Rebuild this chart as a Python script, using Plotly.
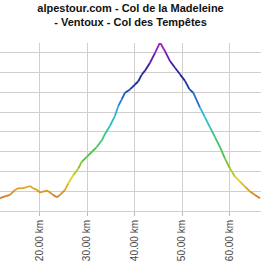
import plotly.graph_objects as go
from plotly.colors import sample_colorscale

# distance (km) and elevation (m)
distance_km = [11.68, 12.74, 13.79, 14.84, 15.47, 16.32, 16.95, 18.0, 18.63, 19.47,
               20.11, 20.74, 21.58, 22.21, 22.84, 23.68, 24.32, 25.37, 26.06, 27.12,
               28.17, 28.88, 29.94, 30.99, 32.04, 33.09, 33.79, 34.84, 35.89, 36.59,
               37.31, 38.0, 39.05, 40.11, 40.8, 41.52, 42.21, 43.26, 44.32, 45.37,
               46.42, 47.47, 48.53, 49.58, 50.63, 51.54, 52.38, 53.79, 54.84, 55.89,
               56.95, 58.0, 59.05, 60.11, 61.16, 62.21, 63.26, 64.32, 65.37, 66.42]
elevation_m = [330, 347, 363, 413, 430, 430, 437, 453, 430, 413,
               387, 397, 407, 387, 363, 340, 363, 413, 480, 563,
               630, 697, 747, 797, 847, 913, 980, 1063, 1163, 1263,
               1330, 1397, 1430, 1480, 1513, 1580, 1620, 1700, 1800, 1905,
               1817, 1717, 1650, 1583, 1517, 1433, 1397, 1247, 1147, 1047,
               947, 847, 730, 630, 547, 497, 447, 397, 363, 330]

tick_km = [20, 30, 40, 50, 60]
tick_labels = ["20.00 km", "30.00 km", "40.00 km", "50.00 km", "60.00 km"]

elev_colorscale = [
    [0.0, "#cf7a22"],
    [0.12, "#e6cf1e"],
    [0.25, "#5cc232"],
    [0.45, "#2fc3a5"],
    [0.55, "#2fb6e0"],
    [0.65, "#2160c2"],
    [0.75, "#1a2a92"],
    [0.86, "#3a1fa8"],
    [1.0, "#b41ec6"],
]

emin, emax = min(elevation_m), max(elevation_m)
fig = go.Figure()
for i in range(len(distance_km) - 1):
    mid = (elevation_m[i] + elevation_m[i + 1]) / 2
    c = sample_colorscale(elev_colorscale, [(mid - emin) / (emax - emin)])[0]
    fig.add_trace(go.Scatter(
        x=distance_km[i:i + 2], y=elevation_m[i:i + 2], mode="lines",
        line=dict(color=c, width=1.8), showlegend=False, hoverinfo="skip"))

fig.update_layout(
    width=261, height=261,
    margin=dict(l=0, r=0, t=43, b=48),
    paper_bgcolor="white", plot_bgcolor="white",
    title=dict(text="<b>alpestour.com - Col de la Madeleine<br>- Ventoux - Col des Tempêtes</b>",
               x=0.5, xanchor="center", y=0.955, yanchor="top",
               font=dict(family="Liberation Sans, Arial", size=11, color="#111")),
)
fig.update_xaxes(
    range=[11.68, 66.63], tickvals=tick_km, ticktext=tick_labels, tickangle=-90,
    showgrid=True, gridcolor="#cfcfcf", gridwidth=1,
    ticks="outside", ticklen=4, tickcolor="#bbbbbb",
    showline=True, linecolor="#cfcfcf",
    tickfont=dict(family="Liberation Sans, Arial", size=10, color="#444"),
    zeroline=False,
)
fig.update_yaxes(
    range=[200, 1900], dtick=200, tick0=200, showticklabels=False,
    showgrid=True, gridcolor="#cfcfcf", gridwidth=1, zeroline=False,
)
fig.write_html("out.html")
